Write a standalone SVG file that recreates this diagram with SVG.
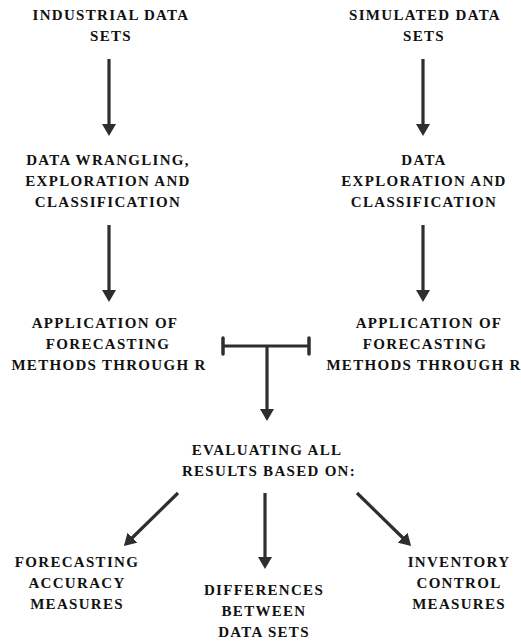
<svg xmlns="http://www.w3.org/2000/svg" width="521" height="641" viewBox="0 0 521 641">
<style>
text{font-weight:bold;font-size:15px;letter-spacing:1.3px;fill:#111;text-anchor:middle}
.c{stroke:#2e2e2e;stroke-width:3.2;fill:none}
</style>
<defs>
<marker id="ah" markerUnits="userSpaceOnUse" viewBox="0 0 12 14" refX="2" refY="7" markerWidth="12" markerHeight="14" orient="auto">
<path d="M0,0 L12,7 L0,14 z" fill="#2e2e2e"/>
</marker>
</defs>
<rect width="521" height="641" fill="#fff"/>
<g font-family="'Liberation Serif', 'DejaVu Serif', serif">
<g id="n1"><text x="111" y="20">INDUSTRIAL DATA</text><text x="111" y="41">SETS</text></g>
<g id="n2"><text x="425" y="20">SIMULATED DATA</text><text x="424" y="41">SETS</text></g>
<g id="n3"><text x="108" y="165">DATA WRANGLING,</text><text x="108" y="186">EXPLORATION AND</text><text x="108" y="207">CLASSIFICATION</text></g>
<g id="n4"><text x="424" y="165">DATA</text><text x="424" y="186">EXPLORATION AND</text><text x="424" y="207">CLASSIFICATION</text></g>
<g id="n5"><text x="105" y="328">APPLICATION OF</text><text x="108" y="349">FORECASTING</text><text x="109" y="370">METHODS THROUGH R</text></g>
<g id="n6"><text x="429" y="328">APPLICATION OF</text><text x="425" y="349">FORECASTING</text><text x="424" y="370">METHODS THROUGH R</text></g>
<g id="n7"><text x="267" y="455">EVALUATING ALL</text><text x="269" y="476">RESULTS BASED ON:</text></g>
<g id="n8"><text x="77" y="567">FORECASTING</text><text x="77" y="588">ACCURACY</text><text x="77" y="609">MEASURES</text></g>
<g id="n9"><text x="264" y="595">DIFFERENCES</text><text x="264" y="616">BETWEEN</text><text x="264" y="637">DATA SETS</text></g>
<g id="n10"><text x="459" y="567">INVENTORY</text><text x="459" y="588">CONTROL</text><text x="459" y="609">MEASURES</text></g>
</g>
<g id="connectors">
<line class="c" x1="109" y1="59" x2="109" y2="126" marker-end="url(#ah)"/>
<line class="c" x1="423" y1="59" x2="423" y2="126" marker-end="url(#ah)"/>
<line class="c" x1="109" y1="225" x2="109" y2="292" marker-end="url(#ah)"/>
<line class="c" x1="423" y1="225" x2="423" y2="292" marker-end="url(#ah)"/>
<line class="c" x1="223" y1="346" x2="309" y2="346"/>
<line class="c" x1="223" y1="338" x2="223" y2="354" stroke-linecap="round" style="stroke-width:3.5"/>
<line class="c" x1="309" y1="338" x2="309" y2="354" stroke-linecap="round" style="stroke-width:3.5"/>
<line class="c" x1="267" y1="346" x2="267" y2="411" marker-end="url(#ah)"/>
<line class="c" x1="178" y1="493" x2="131" y2="539" marker-end="url(#ah)"/>
<line class="c" x1="265" y1="493" x2="265" y2="559" marker-end="url(#ah)"/>
<line class="c" x1="357" y1="493" x2="404" y2="539" marker-end="url(#ah)"/>
</g>
</svg>
